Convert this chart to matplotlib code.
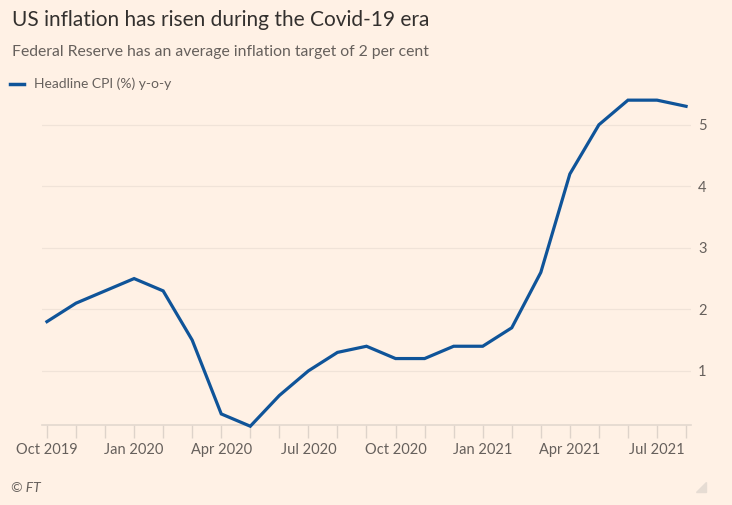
import matplotlib
matplotlib.use("Agg")
import matplotlib.pyplot as plt
from matplotlib.patches import Polygon

months = ["Oct 2019", "Nov 2019", "Dec 2019", "Jan 2020", "Feb 2020", "Mar 2020",
          "Apr 2020", "May 2020", "Jun 2020", "Jul 2020", "Aug 2020", "Sep 2020",
          "Oct 2020", "Nov 2020", "Dec 2020", "Jan 2021", "Feb 2021", "Mar 2021",
          "Apr 2021", "May 2021", "Jun 2021", "Jul 2021", "Aug 2021"]
cpi = [1.8, 2.1, 2.3, 2.5, 2.3, 1.5, 0.3, 0.1, 0.6, 1.0, 1.3, 1.4,
       1.2, 1.2, 1.4, 1.4, 1.7, 2.6, 4.2, 5.0, 5.4, 5.4, 5.3]
y_ticks = [1, 2, 3, 4, 5]

plt.rcParams['font.family'] = ['Lato', 'DejaVu Sans']
BG = "#FFF1E5"
LINE = "#0F5499"
GREY = "#66605C"
GRID = "#F0E3D8"

W, H = 732, 505
fig = plt.figure(figsize=(W/100, H/100), dpi=100, facecolor=BG)

left, right, top, bottom = 42, 691, 94, 425
ax = fig.add_axes([left/W, 1 - bottom/H, (right-left)/W, (bottom-top)/H])
ax.set_facecolor(BG)

x = list(range(len(months)))
ax.plot(x, cpi, color=LINE, lw=2.3, solid_joinstyle='miter', zorder=3, clip_on=False)

ax.set_xlim(-0.17, 22.17)
ax.set_ylim(0.12, 5.5)

for s in ["top", "right", "left"]:
    ax.spines[s].set_visible(False)
ax.spines["bottom"].set_color("#E3D8CF")
ax.spines["bottom"].set_linewidth(1.2)

ax.set_yticks(y_ticks)
ax.set_yticklabels([str(v) for v in y_ticks])
ax.yaxis.tick_right()
ax.tick_params(axis='y', length=0, pad=5, labelsize=10.5, labelcolor=GREY)
ax.grid(axis='y', color=GRID, lw=0.9)
ax.set_axisbelow(True)

ax.set_xticks(x, minor=True)
ax.set_xticks(x[::3])
ax.set_xticklabels([months[i] for i in x[::3]])
ax.tick_params(axis='x', which='both', length=9, width=1, color="#DED3CA",
               labelsize=10.5, labelcolor=GREY, pad=4)

fig.text(12/W, 1 - 20/H, "US inflation has risen during the Covid-19 era",
         fontsize=15, color="#33302E", va='center', ha='left')
fig.text(12/W, 1 - 52/H, "Federal Reserve has an average inflation target of 2 per cent",
         fontsize=11.3, color=GREY, va='center', ha='left')
fig.add_artist(plt.Line2D([10/W, 24/W], [1 - 84/H, 1 - 84/H], color=LINE, lw=2.5))
fig.text(34/W, 1 - 84/H, "Headline CPI (%) y-o-y", fontsize=10, color=GREY,
         va='center', ha='left')
fig.text(11/W, 1 - 488/H, "© FT", fontsize=10, color=GREY, style='italic',
         va='center', ha='left')
tri = Polygon([[706/W, 1 - 482/H], [706/W, 1 - 492/H], [696/W, 1 - 492/H]],
              closed=True, transform=fig.transFigure, color="#E6DCD3")
fig.add_artist(tri)

fig.savefig("out.png", dpi=100, facecolor=BG)
